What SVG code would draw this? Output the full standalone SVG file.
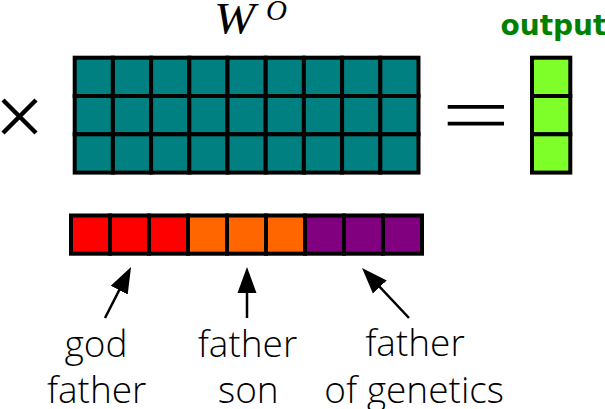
<svg xmlns="http://www.w3.org/2000/svg" width="605" height="409" viewBox="0 0 605 409">
  <style>
    .cell { stroke: #000; stroke-width: 4; }
    .teal { fill: #008080; }
    .green { fill: #7fff2a; }
    .red { fill: #ff0000; }
    .orange { fill: #ff6600; }
    .purple { fill: #800080; }
    .op { stroke: #000; fill: none; }
    .lbl { font-family: "Open Sans Light", "Lato Light", "Open Sans", "Liberation Sans", sans-serif; font-weight: 300; font-size: 37px; fill: #000; text-anchor: middle; }
    .math { font-family: "Liberation Serif", serif; font-style: italic; fill: #000; }
    .conn { stroke: #000; stroke-width: 2.5; fill: none; }
  </style>
  <defs>
    <marker id="ah" markerUnits="userSpaceOnUse" markerWidth="30" markerHeight="24" viewBox="0 -12 30 24" refX="18" refY="0" orient="auto">
      <path d="M0,-9.5 L26,0 L0,9.5 Z" fill="#000"/>
    </marker>
  </defs>

  <g id="times">
    <path class="op" stroke-width="4.5" d="M3,100 L36,133 M36,100 L3,133"/>
  </g>

  <g id="matrix-WO">
    <text class="math" x="214" y="33" font-size="44" textLength="41" lengthAdjust="spacingAndGlyphs">W</text>
    <text class="math" x="266" y="20" font-size="29">O</text>
    <g id="matrix-cells">
      <rect class="cell teal" x="74.7" y="57.7" width="38.2" height="38.3"/>
      <rect class="cell teal" x="112.9" y="57.7" width="38.2" height="38.3"/>
      <rect class="cell teal" x="151.1" y="57.7" width="38.2" height="38.3"/>
      <rect class="cell teal" x="189.3" y="57.7" width="38.2" height="38.3"/>
      <rect class="cell teal" x="227.5" y="57.7" width="38.2" height="38.3"/>
      <rect class="cell teal" x="265.7" y="57.7" width="38.2" height="38.3"/>
      <rect class="cell teal" x="303.9" y="57.7" width="38.2" height="38.3"/>
      <rect class="cell teal" x="342.1" y="57.7" width="38.2" height="38.3"/>
      <rect class="cell teal" x="380.3" y="57.7" width="38.2" height="38.3"/>
      <rect class="cell teal" x="74.7" y="96" width="38.2" height="38.3"/>
      <rect class="cell teal" x="112.9" y="96" width="38.2" height="38.3"/>
      <rect class="cell teal" x="151.1" y="96" width="38.2" height="38.3"/>
      <rect class="cell teal" x="189.3" y="96" width="38.2" height="38.3"/>
      <rect class="cell teal" x="227.5" y="96" width="38.2" height="38.3"/>
      <rect class="cell teal" x="265.7" y="96" width="38.2" height="38.3"/>
      <rect class="cell teal" x="303.9" y="96" width="38.2" height="38.3"/>
      <rect class="cell teal" x="342.1" y="96" width="38.2" height="38.3"/>
      <rect class="cell teal" x="380.3" y="96" width="38.2" height="38.3"/>
      <rect class="cell teal" x="74.7" y="134.3" width="38.2" height="38.3"/>
      <rect class="cell teal" x="112.9" y="134.3" width="38.2" height="38.3"/>
      <rect class="cell teal" x="151.1" y="134.3" width="38.2" height="38.3"/>
      <rect class="cell teal" x="189.3" y="134.3" width="38.2" height="38.3"/>
      <rect class="cell teal" x="227.5" y="134.3" width="38.2" height="38.3"/>
      <rect class="cell teal" x="265.7" y="134.3" width="38.2" height="38.3"/>
      <rect class="cell teal" x="303.9" y="134.3" width="38.2" height="38.3"/>
      <rect class="cell teal" x="342.1" y="134.3" width="38.2" height="38.3"/>
      <rect class="cell teal" x="380.3" y="134.3" width="38.2" height="38.3"/>
    </g>
  </g>

  <g id="equals">
    <path class="op" stroke-width="3.7" d="M447.7,106.8 L504,106.8 M447.7,123.7 L504,123.7"/>
  </g>

  <g id="output">
    <text x="500.5" y="35" font-family="DejaVu Sans, Verdana, sans-serif" font-weight="bold" font-size="28" fill="#008000">output</text>
    <rect class="cell green" x="532" y="57.7" width="38.3" height="38.3"/>
    <rect class="cell green" x="532" y="96" width="38.3" height="38.3"/>
    <rect class="cell green" x="532" y="134.3" width="38.3" height="38.3"/>
  </g>

  <g id="vector">
    <rect class="cell red" x="71" y="215.5" width="39" height="38.2"/>
    <rect class="cell red" x="110" y="215.5" width="39" height="38.2"/>
    <rect class="cell red" x="149" y="215.5" width="39" height="38.2"/>
    <rect class="cell orange" x="188" y="215.5" width="39" height="38.2"/>
    <rect class="cell orange" x="227" y="215.5" width="39" height="38.2"/>
    <rect class="cell orange" x="266" y="215.5" width="39" height="38.2"/>
    <rect class="cell purple" x="305" y="215.5" width="39" height="38.2"/>
    <rect class="cell purple" x="344" y="215.5" width="39" height="38.2"/>
    <rect class="cell purple" x="383" y="215.5" width="39" height="38.2"/>
  </g>

  <g id="label-godfather">
    <text class="lbl" x="96" y="356.7">god</text>
    <text class="lbl" x="96.7" y="403.3">father</text>
  </g>
  <g id="label-fatherson">
    <text class="lbl" x="247.5" y="356.7">father</text>
    <text class="lbl" x="248.3" y="403.3">son</text>
  </g>
  <g id="label-fatherofgenetics">
    <text class="lbl" x="415" y="356">father</text>
    <text class="lbl" x="414.2" y="403.3">of genetics</text>
  </g>

  <g id="connectors">
    <line class="conn" x1="105" y1="318" x2="127.4" y2="274.1" marker-end="url(#ah)"/>
    <line class="conn" x1="247" y1="318" x2="247" y2="275" marker-end="url(#ah)"/>
    <line class="conn" x1="409" y1="318" x2="367.5" y2="273.8" marker-end="url(#ah)"/>
  </g>
</svg>
